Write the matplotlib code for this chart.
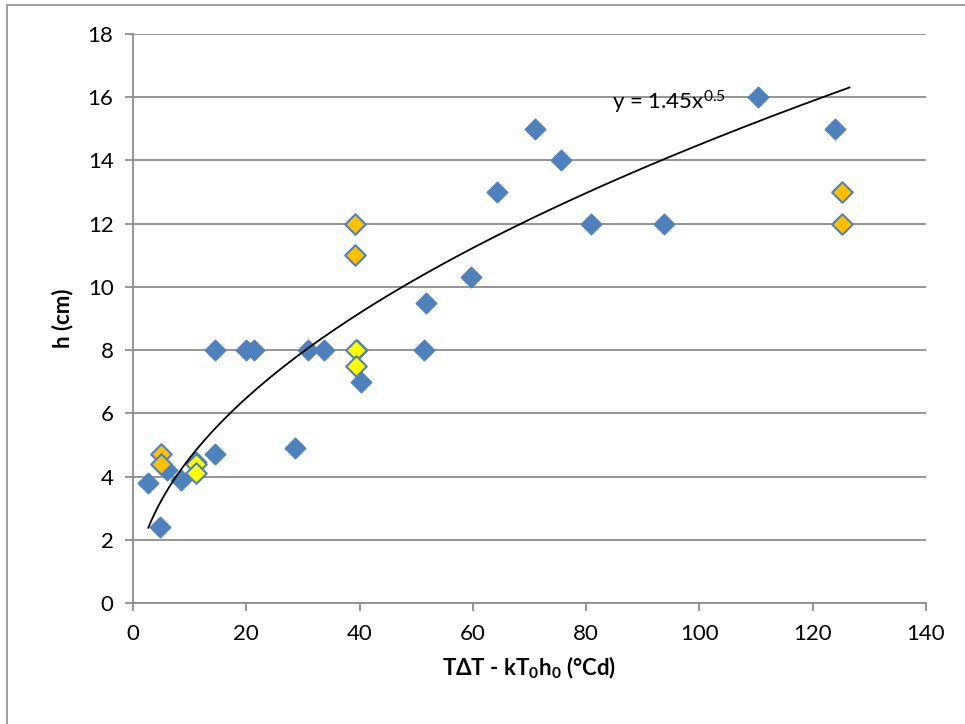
import numpy as np
import matplotlib.pyplot as plt
from matplotlib.patches import Rectangle

plt.rcParams['font.family'] = ['Lato', 'DejaVu Sans']
plt.rcParams['mathtext.fontset'] = 'custom'
plt.rcParams['mathtext.rm'] = 'Lato'
plt.rcParams['mathtext.it'] = 'Lato:italic'
plt.rcParams['mathtext.bf'] = 'Lato:bold'

# main series (blue)
blue_x = [2.7, 4.8, 6.0, 8.4, 11.1, 14.4, 14.5, 20.0, 21.3, 28.6, 30.9, 33.8,
          39.6, 40.2, 51.3, 51.7, 59.7, 64.2, 70.9, 75.5, 80.9, 93.8, 110.4, 123.9]
blue_y = [3.8, 2.4, 4.2, 3.9, 4.45, 4.7, 8.0, 8.0, 8.0, 4.9, 8.0, 8.0,
          8.0, 7.0, 8.0, 9.5, 10.3, 13.0, 15.0, 14.0, 12.0, 12.0, 16.0, 15.0]

# orange series
orange_x = [4.9, 4.9, 39.2, 39.2, 125.2, 125.2]
orange_y = [4.7, 4.4, 12.0, 11.0, 13.0, 12.0]

# yellow series
yellow_x = [11.1, 11.1, 39.3, 39.3]
yellow_y = [4.4, 4.1, 8.0, 7.5]

# power fit y = a * x^b
fit_a = 1.45
fit_b = 0.5
fit_range = (2.7, 126.5)

fig = plt.figure(figsize=(9.65, 7.24), dpi=100)
ax = fig.add_axes([133 / 965, 1 - 603 / 724, (926 - 133) / 965, (603 - 34) / 724])

# outer chart frame
fig.patches.append(Rectangle((7 / 965, -0.1), 1.2, 1 - 5 / 724 + 0.1,
                             transform=fig.transFigure, fill=False,
                             edgecolor='#8c8c8c', linewidth=1.2))

ax.scatter(blue_x, blue_y, marker='D', s=110, color='#4F81BD',
           edgecolors='#4F81BD', linewidths=1, zorder=3)
ax.scatter(orange_x, orange_y, marker='D', s=110, color='#FFC000',
           edgecolors='#4F81BD', linewidths=1.5, zorder=4)
ax.scatter(yellow_x, yellow_y, marker='D', s=110, color='#FFFF00',
           edgecolors='#4F81BD', linewidths=1.5, zorder=4)

xs = np.linspace(fit_range[0], fit_range[1], 200)
ax.plot(xs, fit_a * xs ** fit_b, color='black', linewidth=1.3, zorder=5)
ax.text(84.5, 15.85, 'y = 1.45x$^{0.5}$', fontsize=16, ha='left', va='center')

ax.set_xlim(0, 140)
ax.set_ylim(0, 18)
ax.set_xticks(range(0, 141, 20))
ax.set_yticks(range(0, 19, 2))
ax.grid(axis='y', color='#8c8c8c', linewidth=1.3)
ax.set_axisbelow(True)
for side in ['top', 'right']:
    ax.spines[side].set_visible(False)
for side in ['left', 'bottom']:
    ax.spines[side].set_color('#8c8c8c')
    ax.spines[side].set_linewidth(1.3)
ax.tick_params(colors='#8c8c8c', labelcolor='black', labelsize=16,
               length=6, width=1.3, pad=8)
ax.tick_params(axis='x', pad=9)

ax.set_xlabel(r'TΔT - kT$_\mathbf{0}$h$_\mathbf{0}$ (°Cd)', fontsize=16,
              fontweight='bold', labelpad=8)
ax.set_ylabel('h (cm)', fontsize=16, fontweight='bold', labelpad=10)

fig.savefig('out.png', dpi=100)
